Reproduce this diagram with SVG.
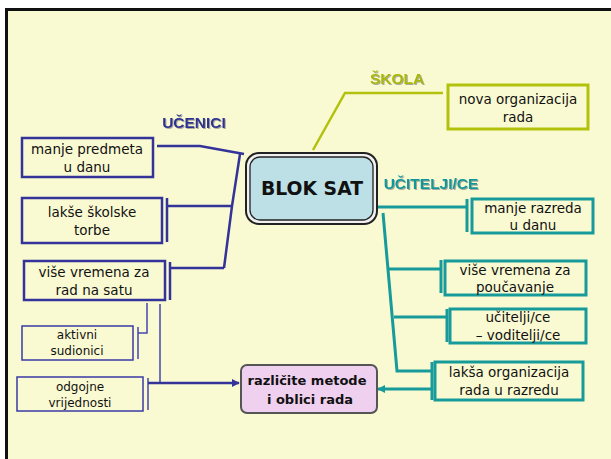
<svg xmlns="http://www.w3.org/2000/svg" width="611" height="459" viewBox="0 0 611 459">
<defs>
<style>
.t{font-family:"DejaVu Sans","Liberation Sans",sans-serif;font-size:13.5px;fill:#111;text-anchor:middle}
.ts{font-family:"DejaVu Sans","Liberation Sans",sans-serif;font-size:12px;fill:#111;text-anchor:middle}
.lb{font-family:"Liberation Sans",Arial,sans-serif;font-weight:bold;font-size:15.5px;text-anchor:middle}
.bx{fill:none;stroke:#33339A;stroke-width:2.5}
.bxt{fill:none;stroke:#3A3AA8;stroke-width:1.5}
.bl{fill:none;stroke:#33339A;stroke-width:2.5}
.blt{fill:none;stroke:#4545B0;stroke-width:1.5}
.tl{fill:none;stroke:#179A9A;stroke-width:3}
.tb{fill:none;stroke:#179A9A;stroke-width:3}
</style>
<filter id="sh" x="-10%" y="-20%" width="130%" height="150%">
<feDropShadow dx="1" dy="1" stdDeviation="0.4" flood-color="#888" flood-opacity="0.7"/>
</filter>
<marker id="ab" viewBox="0 0 10 10" refX="9" refY="5" markerWidth="8" markerHeight="8" markerUnits="userSpaceOnUse" orient="auto">
<path d="M0,0 L10,5 L0,10 z" fill="#33339A"/>
</marker>
<marker id="at" viewBox="0 0 10 10" refX="9" refY="5" markerWidth="8" markerHeight="8" markerUnits="userSpaceOnUse" orient="auto">
<path d="M0,0 L10,5 L0,10 z" fill="#179A9A"/>
</marker>
</defs>
<rect x="0" y="0" width="611" height="459" fill="#fff"/>
<rect x="6.5" y="9.5" width="700" height="500" fill="#FAFAD2" stroke="#111" stroke-width="3"/>

<g id="connectors">
<path class="bl" d="M157,146 H200 L244,154"/>
<path class="bl" d="M240,154 L232,206 L224,268"/>
<path class="bl" d="M167,206 H232"/>
<path class="bl" d="M167,198 V242"/>
<path class="bl" d="M170,268 H224"/>
<path class="bl" d="M170,262 V300"/>
<path class="blt" d="M147,303 V333 H138"/>
<path class="blt" d="M138,327 V359"/>
<path class="blt" d="M160,304 V383"/>
<path class="blt" d="M148,378 V410"/>
<path class="bl" d="M148,383 H239" marker-end="url(#ab)"/>
<path fill="none" stroke="#B2C20C" stroke-width="2.5" d="M313,150 L345,93 H443"/>
<path class="tl" d="M376,207 H467"/>
<path class="tl" d="M467,199 V232"/>
<path class="tl" d="M383,213 L397,371 H432"/>
<path class="tl" d="M389,269 H441"/>
<path class="tl" d="M441,260 V293"/>
<path class="tl" d="M394,317 H447"/>
<path class="tl" d="M447,309 V342"/>
<path class="tl" d="M432,362 V400"/>
<path class="tl" d="M432,389 H378" marker-end="url(#at)"/>
</g>

<g id="blok-sat">
<rect x="246" y="153" width="131" height="71" rx="13" fill="#F0F0F0" stroke="#222" stroke-width="2"/>
<rect x="250" y="157" width="123" height="63" rx="10" fill="#BCE0E6" stroke="#222" stroke-width="1.3"/>
<text x="312" y="195" font-family="DejaVu Sans,Liberation Sans,sans-serif" font-weight="bold" font-size="19" fill="#111" text-anchor="middle" textLength="102" lengthAdjust="spacingAndGlyphs">BLOK SAT</text>
</g>

<g id="label-skola">
<text class="lb" x="397" y="84" fill="#A8B800" filter="url(#sh)">ŠKOLA</text>
</g>
<g id="label-ucenici">
<text class="lb" x="194" y="128" fill="#2E3192" font-size="16.5" filter="url(#sh)">UČENICI</text>
</g>
<g id="label-ucitelji">
<text class="lb" x="431" y="189" fill="#11999A" filter="url(#sh)">UČITELJI/CE</text>
</g>

<g id="nova-organizacija">
<rect x="448" y="85" width="140" height="44" fill="none" stroke="#B2C20C" stroke-width="3"/>
<text class="t" x="518" y="104">nova organizacija</text>
<text class="t" x="518" y="122">rada</text>
</g>

<g id="manje-predmeta">
<rect class="bx" x="22" y="138" width="131" height="39"/>
<text class="t" x="87" y="154">manje predmeta</text>
<text class="t" x="87" y="172">u danu</text>
</g>
<g id="lakse-torbe">
<rect class="bx" x="22" y="198" width="140" height="45"/>
<text class="t" x="92" y="217">lakše školske</text>
<text class="t" x="92" y="235">torbe</text>
</g>
<g id="vise-vremena-rad">
<rect class="bx" x="24" y="261" width="141" height="39"/>
<text class="t" x="94" y="277">više vremena za</text>
<text class="t" x="94" y="295">rad na satu</text>
</g>
<g id="aktivni">
<rect class="bxt" x="22" y="326" width="111" height="34"/>
<text class="ts" x="77" y="339">aktivni</text>
<text class="ts" x="77" y="355">sudionici</text>
</g>
<g id="odgojne">
<rect class="bxt" x="17" y="377" width="126" height="34"/>
<text class="ts" x="80" y="391">odgojne</text>
<text class="ts" x="80" y="407">vrijednosti</text>
</g>

<g id="razlicite-metode">
<rect x="241" y="365" width="136" height="48" rx="6" fill="#EFD0EF" stroke="#555" stroke-width="2"/>
<text x="307" y="385" font-family="DejaVu Sans,Liberation Sans,sans-serif" font-weight="bold" font-size="13" fill="#111" text-anchor="middle">različite metode</text>
<text x="310" y="404" font-family="DejaVu Sans,Liberation Sans,sans-serif" font-weight="bold" font-size="13" fill="#111" text-anchor="middle">i oblici rada</text>
</g>

<g id="manje-razreda">
<rect class="tb" x="472" y="199" width="121" height="34"/>
<text class="t" x="533" y="213">manje razreda</text>
<text class="t" x="533" y="230">u danu</text>
</g>
<g id="vise-vremena-poucavanje">
<rect class="tb" x="445" y="261" width="141" height="34"/>
<text class="t" x="515" y="275">više vremena za</text>
<text class="t" x="515" y="292">poučavanje</text>
</g>
<g id="ucitelji-voditelji">
<rect class="tb" x="450" y="309" width="136" height="34"/>
<text class="t" x="518" y="322">učitelji/ce</text>
<text class="t" x="518" y="340">– voditelji/ce</text>
</g>
<g id="laksa-organizacija">
<rect class="tb" x="435" y="362" width="148" height="38"/>
<text class="t" x="509" y="377">lakša organizacija</text>
<text class="t" x="509" y="395">rada u razredu</text>
</g>
</svg>
